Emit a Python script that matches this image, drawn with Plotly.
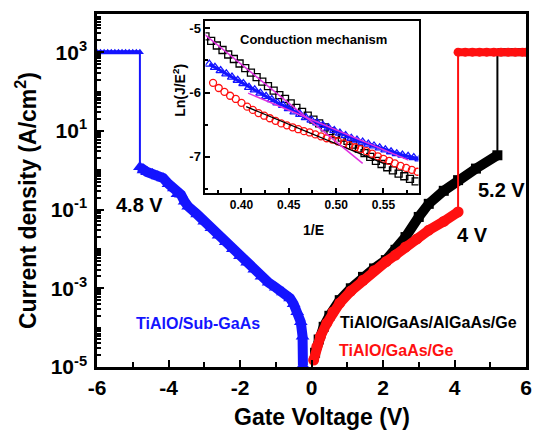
import plotly.graph_objects as go

# ---------------- main panel data (Gate voltage V, current density A/cm^2) ----------------
blue_sat_v = [-6.0, -5.9, -5.8, -5.7, -5.6, -5.5, -5.4, -5.3, -5.2, -5.1, -5.0, -4.9, -4.8]
blue_sat_j = [1000, 1000, 1000, 1000, 1000, 1000, 1000, 1000, 1000, 1000, 1000, 1000, 1000]
blue_v = [-4.8, -4.7, -4.6, -4.45, -4.3, -4.15, -4.0, -3.85, -3.75, -3.65, -3.55, -3.45,
          -3.2, -3.0, -2.8, -2.6, -2.4, -2.2, -2.0, -1.8, -1.6, -1.4, -1.2, -1.0,
          -0.8, -0.6, -0.5, -0.4, -0.3, -0.25, -0.24]
blue_j = [1.2, 1.0, 0.9, 0.8, 0.7, 0.63, 0.45, 0.35, 0.25, 0.24, 0.16, 0.12,
          0.076, 0.05, 0.034, 0.022, 0.015, 0.01, 6.6e-3, 4.5e-3, 3.0e-3, 2.0e-3, 1.4e-3, 1.05e-3,
          7.9e-4, 5.6e-4, 4.0e-4, 2.5e-4, 1.4e-4, 6e-5, 1.1e-5]

black_v = [0.1, 0.2, 0.34, 0.5, 0.79, 1.1, 1.44, 1.75, 2.08, 2.35, 2.63, 3.0, 3.28, 3.7, 4.1, 4.6, 5.2]
black_j = [2.3e-5, 5e-5, 1.05e-4, 2.0e-4, 5.0e-4, 1.0e-3, 1.95e-3, 3.2e-3, 5.2e-3, 9.5e-3, 2.0e-2,
           6.5e-2, 0.14, 0.3, 0.56, 1.1, 2.4]
black_sat_v = [5.2, 6.0]
black_sat_j = [1000, 1000]

red_v = [0.06, 0.15, 0.25, 0.43, 0.6, 0.79, 1.1, 1.44, 1.75, 2.08, 2.35, 2.63, 2.95, 3.28, 3.7, 4.1]
red_j = [1.5e-5, 3.3e-5, 6e-5, 1.3e-4, 2.5e-4, 4.2e-4, 8.5e-4, 1.6e-3, 2.8e-3, 4.7e-3, 7.0e-3,
         1.12e-2, 1.8e-2, 3.0e-2, 5.0e-2, 8.7e-2]
red_sat_v = [4.1, 4.3, 4.5, 4.7, 4.9, 5.1, 5.3, 5.5, 5.7, 5.9, 6.0]
red_sat_j = [1000, 1000, 1000, 1000, 1000, 1000, 1000, 1000, 1000, 1000, 1000]

x_tick_vals = [-6, -4, -2, 0, 2, 4, 6]
x_tick_text = ["-6", "-4", "-2", "0", "2", "4", "6"]
y_label_vals = [1e-5, 1e-3, 1e-1, 1e1, 1e3]
y_label_text = ["10<sup>-5</sup>", "10<sup>-3</sup>", "10<sup>-1</sup>", "10<sup>1</sup>", "10<sup>3</sup>"]
y_unlabeled_vals = [1e-4, 1e-2, 1e0, 1e2]

# ---------------- inset data (1/E, Ln(J/E^2)) ----------------
ins_black_x = [0.362, 0.368, 0.374, 0.380, 0.386, 0.392, 0.398, 0.404, 0.410, 0.416, 0.422, 0.428,
               0.434, 0.440, 0.446, 0.452, 0.458, 0.464, 0.470, 0.476, 0.482, 0.488, 0.494, 0.500,
               0.506, 0.512, 0.518, 0.524, 0.530, 0.536, 0.542, 0.548, 0.554, 0.560, 0.566, 0.572,
               0.578, 0.584]
ins_black_y = [-5.13, -5.20, -5.27, -5.34, -5.41, -5.48, -5.55, -5.62, -5.69, -5.76, -5.83, -5.90,
               -5.97, -6.04, -6.10, -6.17, -6.24, -6.30, -6.36, -6.42, -6.48, -6.54, -6.60, -6.65,
               -6.70, -6.75, -6.81, -6.87, -6.94, -7.00, -7.06, -7.11, -7.16, -7.21, -7.26, -7.30,
               -7.34, -7.38]
ins_blue_x = [0.366, 0.372, 0.378, 0.384, 0.390, 0.396, 0.402, 0.408, 0.414, 0.420, 0.426, 0.432,
              0.438, 0.444, 0.450, 0.456, 0.462, 0.468, 0.474, 0.480, 0.486, 0.492, 0.498, 0.504,
              0.510, 0.516, 0.522, 0.528, 0.534, 0.540, 0.546, 0.552, 0.558, 0.564, 0.570, 0.576,
              0.582, 0.588]
ins_blue_y = [-5.56, -5.61, -5.66, -5.71, -5.76, -5.81, -5.86, -5.92, -5.96, -6.01, -6.06, -6.11,
              -6.16, -6.20, -6.25, -6.30, -6.34, -6.39, -6.43, -6.47, -6.51, -6.55, -6.59, -6.63,
              -6.67, -6.71, -6.74, -6.77, -6.80, -6.83, -6.86, -6.89, -6.92, -6.95, -6.97, -6.99,
              -7.01, -7.03]
ins_red_x = [0.370, 0.376, 0.382, 0.388, 0.394, 0.400, 0.406, 0.412, 0.418, 0.424, 0.430, 0.436,
             0.442, 0.448, 0.454, 0.460, 0.466, 0.472, 0.478, 0.484, 0.490, 0.496, 0.502, 0.508,
             0.514, 0.520, 0.526, 0.532, 0.538, 0.544, 0.550, 0.556, 0.562, 0.568, 0.574, 0.580,
             0.586]
ins_red_y = [-5.85, -5.93, -5.99, -6.05, -6.10, -6.16, -6.22, -6.27, -6.32, -6.36, -6.40, -6.44,
             -6.48, -6.51, -6.54, -6.57, -6.60, -6.62, -6.65, -6.68, -6.71, -6.73, -6.76, -6.79,
             -6.82, -6.85, -6.88, -6.91, -6.95, -6.99, -7.03, -7.06, -7.10, -7.14, -7.17, -7.20,
             -7.23]
fit_black_x = [0.405, 0.550]
fit_black_y = [-6.22, -7.10]
fit_mag1_x = [0.3613, 0.528]
fit_mag1_y = [-5.10, -7.10]
fit_mag2_x = [0.407, 0.5764]
fit_mag2_y = [-6.01, -7.05]

ins_x_tick_vals = [0.40, 0.45, 0.50, 0.55]
ins_x_tick_text = ["0.40", "0.45", "0.50", "0.55"]
ins_y_tick_vals = [-7, -6, -5]
ins_y_tick_text = ["-7", "-6", "-5"]

BLUE = "#1414ff"
RED = "#ff1010"
BLACK = "#000000"
MAG = "#e030e0"
FONT = "Liberation Sans, Arial, sans-serif"

fig = go.Figure()

# --- blue (TiAlO/Sub-GaAs)
fig.add_trace(go.Scatter(x=blue_sat_v, y=blue_sat_j, mode="lines+markers",
                         line=dict(color=BLUE, width=4),
                         marker=dict(symbol="triangle-up", size=7, color=BLUE)))
fig.add_trace(go.Scatter(x=[blue_sat_v[-1], blue_v[0]], y=[blue_sat_j[-1], blue_j[0]],
                         mode="lines", line=dict(color=BLUE, width=2)))
fig.add_trace(go.Scatter(x=blue_v, y=blue_j, mode="lines+markers",
                         line=dict(color=BLUE, width=10),
                         marker=dict(symbol="triangle-up", size=12, color=BLUE)))

# --- black (TiAlO/GaAs/AlGaAs/Ge)
fig.add_trace(go.Scatter(x=black_sat_v, y=black_sat_j, mode="lines",
                         line=dict(color=BLACK, width=8)))
fig.add_trace(go.Scatter(x=[black_v[-1], black_sat_v[0]], y=[black_j[-1], black_sat_j[0]],
                         mode="lines", line=dict(color=BLACK, width=2)))
fig.add_trace(go.Scatter(x=black_v, y=black_j, mode="lines+markers",
                         line=dict(color=BLACK, width=10),
                         marker=dict(symbol="square", size=10, color=BLACK)))

# --- red (TiAlO/GaAs/Ge)
fig.add_trace(go.Scatter(x=red_sat_v, y=red_sat_j, mode="lines+markers",
                         line=dict(color=RED, width=8),
                         marker=dict(symbol="circle", size=9, color=RED)))
fig.add_trace(go.Scatter(x=[red_v[-1], red_sat_v[0]], y=[red_j[-1], red_sat_j[0]],
                         mode="lines", line=dict(color=RED, width=2)))
fig.add_trace(go.Scatter(x=red_v, y=red_j, mode="lines+markers",
                         line=dict(color=RED, width=10),
                         marker=dict(symbol="circle", size=11, color=RED)))

# --- inset
fig.add_trace(go.Scatter(x=ins_black_x, y=ins_black_y, mode="markers", xaxis="x2", yaxis="y2",
                         marker=dict(symbol="square-open", size=7, color=BLACK, line=dict(width=1.3))))
fig.add_trace(go.Scatter(x=ins_blue_x, y=ins_blue_y, mode="lines+markers", xaxis="x2", yaxis="y2",
                         line=dict(color=BLUE, width=3),
                         marker=dict(symbol="triangle-up-open", size=8, color=BLUE, line=dict(width=1.3))))
fig.add_trace(go.Scatter(x=ins_red_x, y=ins_red_y, mode="markers", xaxis="x2", yaxis="y2",
                         marker=dict(symbol="circle-open", size=7, color=RED, line=dict(width=1.3))))
fig.add_trace(go.Scatter(x=fit_black_x, y=fit_black_y, mode="lines", xaxis="x2", yaxis="y2",
                         line=dict(color=BLACK, width=1.3)))
fig.add_trace(go.Scatter(x=fit_mag1_x, y=fit_mag1_y, mode="lines", xaxis="x2", yaxis="y2",
                         line=dict(color=MAG, width=1.5)))
fig.add_trace(go.Scatter(x=fit_mag2_x, y=fit_mag2_y, mode="lines", xaxis="x2", yaxis="y2",
                         line=dict(color=MAG, width=1.5)))

# ---------------- layout ----------------
W, H = 537, 431
L, R, T, B = 97, 5, 14, 64
pw, ph = W - L - R, H - T - B
Y_RANGE = [-5, 3.97]


def px(xp, yp):
    return (xp - L) / pw, (H - B - yp) / ph


ann = []


def add_text(text, xp, yp, size, color=BLACK, angle=0):
    x, y = px(xp, yp)
    ann.append(dict(text=text, x=x, y=y, xref="paper", yref="paper", showarrow=False,
                    xanchor="center", yanchor="middle", textangle=angle,
                    font=dict(family=FONT, size=size, color=color, weight="bold")))


add_text("4.8 V", 140, 205, 20)
add_text("5.2 V", 507, 190, 20)
add_text("4 V", 478, 235, 20)
add_text("TiAlO/Sub-GaAs", 199, 323, 16, BLUE)
add_text("TiAlO/GaAs/AlGaAs/Ge", 433, 322, 16, BLACK)
add_text("TiAlO/GaAs/Ge", 401, 350, 16, RED)
add_text("Conduction mechanism", 317, 40, 13)
add_text("1/E", 317, 230, 14)
add_text("Ln(J/E<sup>2</sup>)", 180, 90, 14, angle=-90)
add_text("Gate Voltage (V)", 325, 417, 23)
add_text("Current density (A/cm<sup>2</sup>)", 25, 200, 23, angle=-90)

fig.update_layout(
    width=W, height=H,
    margin=dict(l=L, r=R, t=T, b=B),
    paper_bgcolor="white", plot_bgcolor="white",
    showlegend=False,
    annotations=ann,
    xaxis=dict(range=[-6, 6], tickvals=x_tick_vals, ticktext=x_tick_text,
               ticks="inside", ticklen=7, tickwidth=2, tickcolor=BLACK,
               minor=dict(ticks="inside", ticklen=5, tickwidth=2, dtick=1, tick0=-6, tickcolor=BLACK),
               showline=True, linewidth=2.5, linecolor=BLACK, mirror=True,
               showgrid=False, zeroline=False,
               tickfont=dict(family=FONT, size=21, color=BLACK, weight="bold")),
    yaxis=dict(type="log", range=Y_RANGE, tickvals=y_label_vals, ticktext=y_label_text,
               ticks="inside", ticklen=7, tickwidth=2, tickcolor=BLACK,
               minor=dict(ticks="inside", ticklen=4, tickwidth=1.5, dtick="D1", tickcolor=BLACK),
               showline=True, linewidth=2.5, linecolor=BLACK, mirror=True,
               showgrid=False, zeroline=False, ticklabelstandoff=3,
               tickfont=dict(family=FONT, size=21, color=BLACK, weight="bold")),
    yaxis3=dict(type="log", range=Y_RANGE, overlaying="y", side="left", anchor="x",
                tickvals=y_unlabeled_vals, showticklabels=False,
                ticks="inside", ticklen=7, tickwidth=2, tickcolor=BLACK,
                showline=False, showgrid=False, zeroline=False),
    xaxis2=dict(domain=[(207 - L) / pw, (423 - L) / pw], anchor="y2", range=[0.362, 0.587],
                tickvals=ins_x_tick_vals, ticktext=ins_x_tick_text,
                ticks="inside", ticklen=5, tickwidth=1.5, tickcolor=BLACK,
                minor=dict(ticks="inside", ticklen=3, tickwidth=1.5, dtick=0.025, tick0=0.375, tickcolor=BLACK),
                showline=True, linewidth=2, linecolor=BLACK, mirror=True,
                showgrid=False, zeroline=False,
                tickfont=dict(family=FONT, size=12, color=BLACK, weight="bold")),
    yaxis2=dict(domain=[(H - B - 193) / ph, (H - B - 21) / ph], anchor="x2", range=[-7.56, -4.89],
                tickvals=ins_y_tick_vals, ticktext=ins_y_tick_text,
                ticks="inside", ticklen=5, tickwidth=1.5, tickcolor=BLACK,
                minor=dict(ticks="inside", ticklen=3, tickwidth=1.5, dtick=0.5, tick0=-7.5, tickcolor=BLACK),
                showline=True, linewidth=2, linecolor=BLACK, mirror=True,
                showgrid=False, zeroline=False,
                tickfont=dict(family=FONT, size=13, color=BLACK, weight="bold")),
)

fig.write_html("out.html", config={"displayModeBar": False},
               post_script="document.body.style.margin='0';document.body.style.overflow='hidden';")
